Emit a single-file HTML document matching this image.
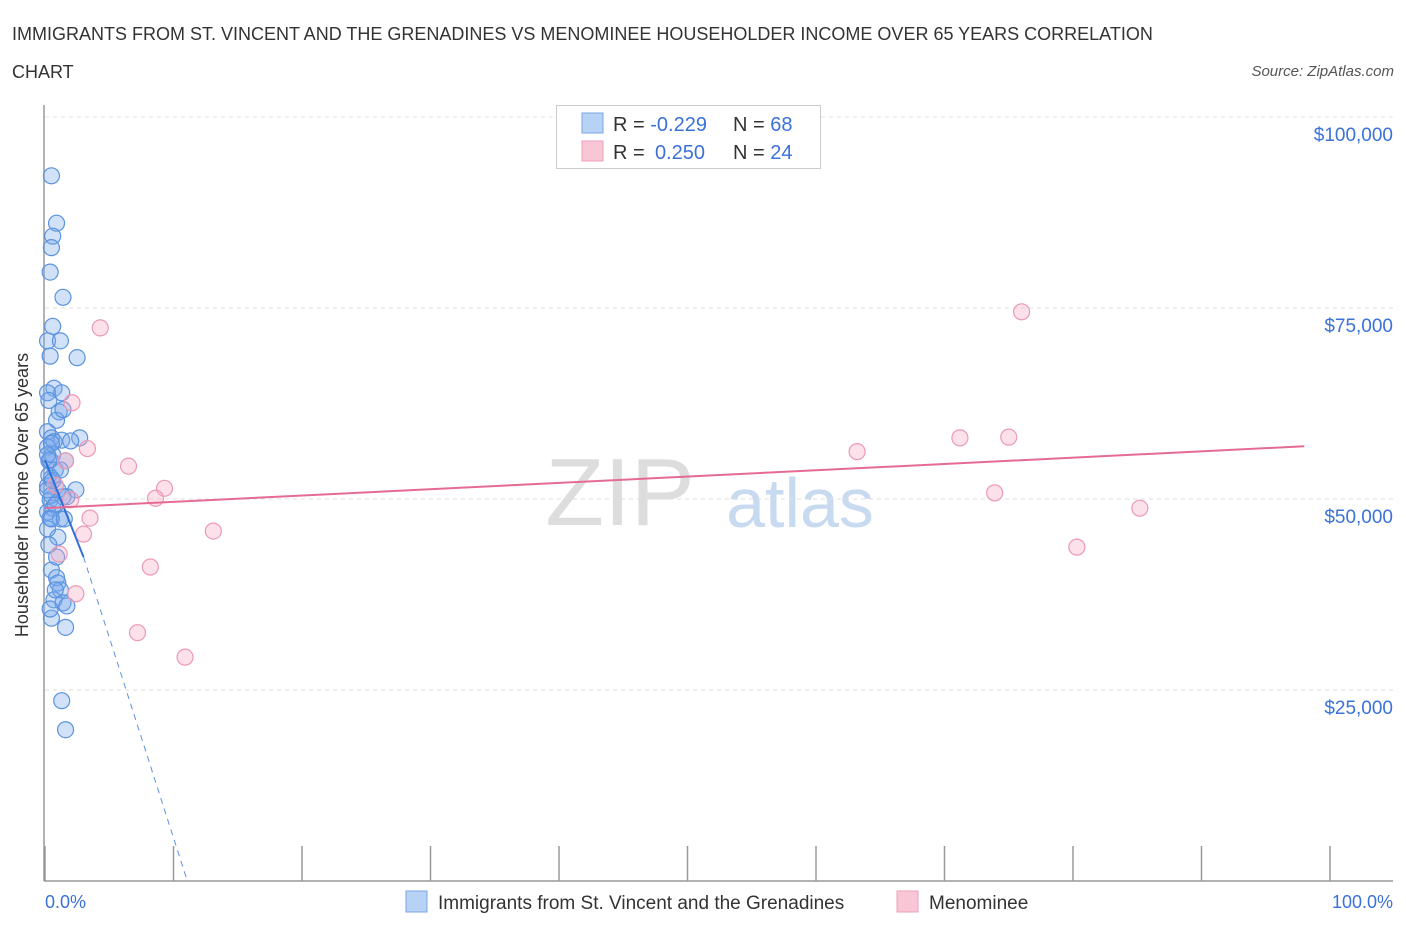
<!DOCTYPE html>
<html><head><meta charset="utf-8"><style>
body{margin:0;background:#fff;font-family:"Liberation Sans",sans-serif;}
svg text{font-family:"Liberation Sans",sans-serif;}
</style></head><body>
<svg id="chart" width="1406" height="930" viewBox="0 0 1406 930">
<text x="12" y="40" font-size="18" fill="#333">IMMIGRANTS FROM ST. VINCENT AND THE GRENADINES VS MENOMINEE HOUSEHOLDER INCOME OVER 65 YEARS CORRELATION</text>
<text x="12" y="78" font-size="18" fill="#333">CHART</text>
<text x="1394" y="76" font-size="15" fill="#555" font-style="italic" text-anchor="end">Source: ZipAtlas.com</text>
<text x="620" y="525" font-size="96" fill="#ddd" font-family="Liberation Serif" text-anchor="middle">ZIP</text>
<text x="800" y="527" font-size="70" fill="#c8daf0" text-anchor="middle">atlas</text>
<g id="grid"></g>
<g id="axes"></g>
<g id="pts"></g>
<g id="trend"></g>
<text x="28" y="495" font-size="18" fill="#333" text-anchor="middle" transform="rotate(-90 28 495)">Householder Income Over 65 years</text>
<text x="45" y="908" font-size="18" fill="#3a72d8">0.0%</text>
<text x="1393" y="908" font-size="18" fill="#3a72d8" text-anchor="end">100.0%</text>
<g>
<rect x="556.5" y="105.5" width="264" height="63" fill="#fff" stroke="#ccc"/>
<rect x="582" y="113" width="21" height="20" fill="#b7d2f5" stroke="#7aa6e6"/>
<rect x="582" y="141" width="21" height="20" fill="#f9c6d6" stroke="#eea0b8"/>
<text x="613" y="131" font-size="20" fill="#333">R = <tspan fill="#3a72d8">-0.229</tspan><tspan x="733">N = </tspan><tspan fill="#3a72d8">68</tspan></text>
<text x="613" y="159" font-size="20" fill="#333">R = <tspan fill="#3a72d8" x="655">0.250</tspan><tspan x="733">N = </tspan><tspan fill="#3a72d8">24</tspan></text>
</g>
<g>
<rect x="406" y="891" width="21" height="21" fill="#b7d2f5" stroke="#7aa6e6"/>
<text x="438" y="909" font-size="19" fill="#333">Immigrants from St. Vincent and the Grenadines</text>
<rect x="897" y="891" width="21" height="21" fill="#f9c6d6" stroke="#eea0b8"/>
<text x="929" y="909" font-size="19" fill="#333">Menominee</text>
</g>
</svg>
<script>
const yTicks=[25000,50000,75000,100000];
const yTickLabels=["$25,000","$50,000","$75,000","$100,000"];
const xTicks=[0,10,20,30,40,50,60,70,80,90,100];
const blueX=[0.5,0.9,0.6,0.5,0.4,1.4,0.6,0.2,1.2,0.4,2.5,0.7,0.2,1.3,1.1,0.9,0.2,0.5,0.7,2.7,1.3,0.2,0.6,1.6,0.3,0.8,0.5,0.2,1.0,2.4,1.7,1.4,0.4,0.6,0.2,0.4,1.0,0.3,0.5,0.9,1.0,1.2,0.7,1.4,1.7,0.5,1.6,1.3,1.6,0.4,0.3,0.5,0.8,0.2,1.2,0.5,1.4,0.3,2.0,0.5,0.2,0.9,0.4,1.5,0.6,0.2,1.2,0.8];
const blueY=[92.3,86.1,84.4,82.9,79.7,76.4,72.6,70.7,70.7,68.7,68.5,64.5,63.9,63.9,61.4,60.3,58.8,58.0,57.5,58.0,57.7,56.8,55.8,55.0,55.0,53.8,52.7,51.7,51.2,51.2,50.3,50.3,49.9,48.8,48.3,47.5,45.0,44.0,40.7,39.7,39.0,38.1,36.8,36.4,36.0,34.4,33.2,23.6,19.8,55.1,53.1,50.5,49.2,46.1,47.4,57.3,61.7,62.9,57.6,47.4,51.2,42.4,35.6,47.4,52.4,55.8,53.8,38.1];
const pinkX=[4.3,2.1,3.3,6.5,9.3,8.6,3.5,3.0,13.1,1.1,8.2,2.4,7.2,10.9,76.0,63.2,71.2,75.0,73.9,85.2,80.3,1.6,0.8,2.0];
const pinkY=[72.4,62.6,56.6,54.3,51.4,50.1,47.5,45.4,45.8,42.8,41.1,37.6,32.5,29.3,74.5,56.2,58.0,58.1,50.8,48.8,43.7,55.0,51.8,49.9];
const blueFit=[[0,55.1],[3,42.4],[11,0.4]];
const pinkFit=[[0,48.8],[98,56.9]];
const X=v=>45+v*12.85, Y=v=>881-v*7.64;
const NS="http://www.w3.org/2000/svg";
function mk(tag,attrs,parent){const e=document.createElementNS(NS,tag);for(const k in attrs)e.setAttribute(k,attrs[k]);parent.appendChild(e);return e;}
const grid=document.getElementById('grid'),axes=document.getElementById('axes'),pts=document.getElementById('pts'),trend=document.getElementById('trend');
yTicks.forEach((t,i)=>{
 const l=mk('line',{x1:45,x2:1393,y1:Y(t/1000),y2:Y(t/1000),stroke:'#ddd','stroke-dasharray':'4,4'},grid);
 
 
 const tx=mk('text',{x:1393,y:Y(t/1000)+24,'font-size':19,fill:'#3a72d8','text-anchor':'end'},grid);
 tx.textContent=yTickLabels[i];
 
 
});
const tl=mk('line',{x1:45,x2:1393,y1:117,y2:117,stroke:'#e4e4e4','stroke-dasharray':'4,4'},grid);


const ya=mk('line',{x1:44,x2:44,y1:105,y2:881,stroke:'#999','stroke-width':1.5},axes);


const xa=mk('line',{x1:44,x2:1393,y1:881,y2:881,stroke:'#999','stroke-width':1.5},axes);


xTicks.forEach(t=>{
 const l=mk('line',{x1:X(t),x2:X(t),y1:846,y2:881,stroke:'#999','stroke-width':1.5},axes);
 
 
});
blueX.forEach((x,i)=>{
 const c=mk('circle',{cx:X(x),cy:Y(blueY[i]),r:8,fill:'rgba(120,170,235,0.35)',stroke:'#5b93e0','stroke-width':1.2},pts);
 
 
});
pinkX.forEach((x,i)=>{
 const c=mk('circle',{cx:X(x),cy:Y(pinkY[i]),r:8,fill:'rgba(245,170,195,0.35)',stroke:'#ec9ab4','stroke-width':1.2},pts);
 
 
});
const b1=mk('line',{x1:X(blueFit[0][0]),y1:Y(blueFit[0][1]),x2:X(blueFit[1][0]),y2:Y(blueFit[1][1]),stroke:'#2f6fd8','stroke-width':2},trend);


const b2=mk('line',{x1:X(blueFit[1][0]),y1:Y(blueFit[1][1]),x2:X(blueFit[2][0]),y2:Y(blueFit[2][1]),stroke:'#5b93e0','stroke-width':1,'stroke-dasharray':'6,5'},trend);


const p1=mk('line',{x1:X(pinkFit[0][0]),y1:Y(pinkFit[0][1]),x2:X(pinkFit[1][0]),y2:Y(pinkFit[1][1]),stroke:'#e56b94','stroke-width':2},trend);


</script>
</body></html>
